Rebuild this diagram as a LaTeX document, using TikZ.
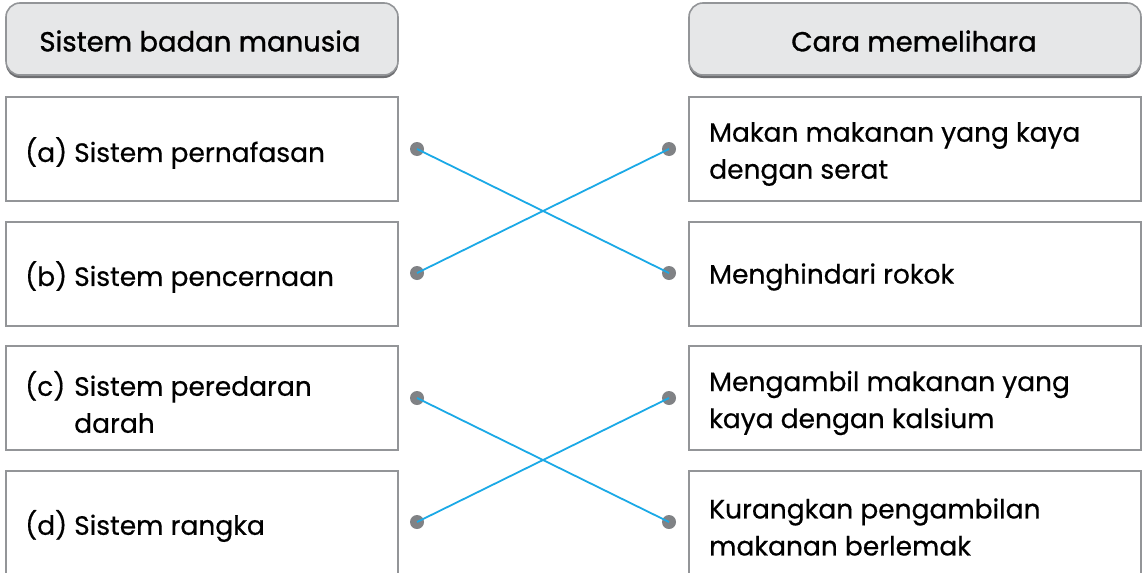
\documentclass[tikz,border=0pt]{standalone}
\usepackage{fontspec}
\setmainfont{Poppins}[FakeBold=0.5]
\newfontfamily\itemfont[FakeBold=0.5]{Poppins}
\newfontfamily\headfont[FakeBold=1.2]{Poppins}
\definecolor{boxline}{HTML}{939598}
\definecolor{headfill}{HTML}{E6E7E8}
\definecolor{headshade}{HTML}{6D6E71}
\definecolor{dotgray}{HTML}{808285}
\definecolor{linkblue}{HTML}{1BA9E6}
\begin{document}
\begin{tikzpicture}[x=1pt,y=-1pt,
  headbox/.style={draw=boxline,line width=1.6pt,fill=headfill,rounded corners=14pt},
  itembox/.style={draw=boxline,line width=1.6pt,fill=white},
  itemtext/.style={anchor=west,align=left,inner sep=0pt,font=\itemfont\fontsize{26.5}{37}\selectfont},
  headtext/.style={inner sep=0pt,font=\headfont\fontsize{27.5}{30}\selectfont},
  enddot/.style={circle,fill=dotgray,minimum size=14pt,inner sep=0pt},
  link/.style={draw=linkblue,line width=1.8pt}]
\useasboundingbox (0,0) rectangle (1146,573);
% header boxes with a soft dark lower edge
\fill[headshade,rounded corners=14pt] (6,6) rectangle (398,78);
\fill[headshade,rounded corners=14pt] (689,6) rectangle (1141,78);
\draw[headbox] (6,3) rectangle (398,75);
\draw[headbox] (689,3) rectangle (1141,75);
\node[headtext] (hl) at (200,41) {Sistem badan manusia};
\node[headtext] (hr) at (914,41) {Cara memelihara};
% left column
\draw[itembox] (6,97) rectangle (398,201);
\draw[itembox] (6,222) rectangle (398,326);
\draw[itembox] (6,346) rectangle (398,450);
\draw[itembox] (6,471) rectangle (398,590);
\node[itemtext] (ta) at (25,153) {\makebox[49pt][l]{(a)}Sistem pernafasan};
\node[itemtext] (tb) at (25,277) {\makebox[49pt][l]{(b)}Sistem pencernaan};
\node[itemtext] (tc) at (25,402) {\makebox[49pt][l]{(c)}Sistem peredaran\\\hspace*{49pt}darah};
\node[itemtext] (td) at (25,526) {\makebox[49pt][l]{(d)}Sistem rangka};
% right column
\draw[itembox] (689,97) rectangle (1141,201);
\draw[itembox] (689,222) rectangle (1141,326);
\draw[itembox] (689,346) rectangle (1141,450);
\draw[itembox] (689,471) rectangle (1141,590);
\node[itemtext] (r1) at (709,154) {Makan makanan yang kaya\\dengan serat};
\node[itemtext] (r2) at (709,277) {Menghindari rokok};
\node[itemtext] (r3) at (709,403) {Mengambil makanan yang\\kaya dengan kalsium};
\node[itemtext] (r4) at (709,527) {Kurangkan pengambilan\\makanan berlemak};
% matching dots
\node[enddot] (la) at (417,149) {};
\node[enddot] (lb) at (417,273) {};
\node[enddot] (lc) at (417,398) {};
\node[enddot] (ld) at (417,522) {};
\node[enddot] (ra) at (669,149) {};
\node[enddot] (rb) at (669,273) {};
\node[enddot] (rc) at (669,398) {};
\node[enddot] (rd) at (669,522) {};
% answers
\draw[link] (la.center) -- (rb.center);
\draw[link] (lb.center) -- (ra.center);
\draw[link] (lc.center) -- (rd.center);
\draw[link] (ld.center) -- (rc.center);
\end{tikzpicture}
\end{document}
